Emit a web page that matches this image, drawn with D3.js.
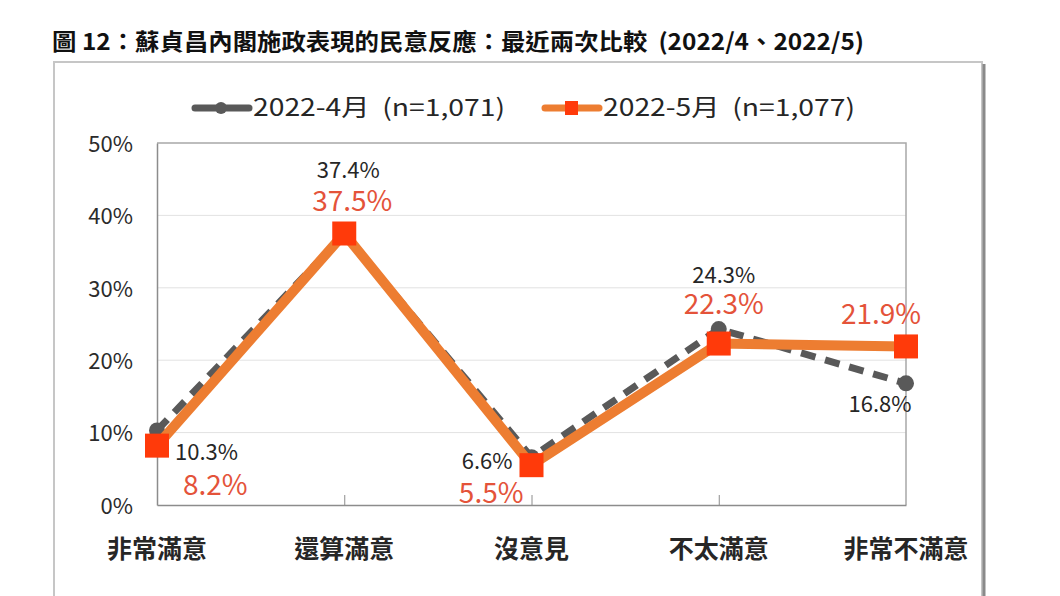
<!DOCTYPE html>
<html>
<head>
<meta charset="utf-8">
<script src="https://cdn.jsdelivr.net/npm/d3@7"></script>
<style>
  body { margin: 0; background: #fff; }
  svg { display: block; font-family: "Noto Sans CJK TC", "Noto Sans", sans-serif; }
</style>
</head>
<body>
<div id="chart"></div>
<script>
// data
const categories = ['非常滿意', '還算滿意', '沒意見', '不太滿意', '非常不滿意'];
const aprValues = [10.3, 37.4, 6.6, 24.3, 16.8];
const mayValues = [8.2, 37.5, 5.5, 22.3, 21.9];
const yTicks = [0, 10, 20, 30, 40, 50];
const seriesNames = ['2022-4月\u00a0\u00a0(n=1,071)', '2022-5月\u00a0\u00a0(n=1,077)'];
const title = '圖 12：蘇貞昌內閣施政表現的民意反應：最近兩次比較\u00a0\u00a0(2022/4、2022/5)';

// label placement around each point (anchor, dx, dy)
const aprLabelPos = [['start', 18, 30], ['middle', 4, -56], ['end', -19, 12], ['middle', 5, -46], ['middle', -26, 29]];
const mayLabelPos = [['start', 26, 49], ['middle', 8, -23], ['end', -8, 38], ['middle', 5, -30], ['middle', -25, -22]];

const width = 1060, height = 596;
const plot = { left: 157, right: 906, top: 143, bottom: 505 };

const svg = d3.select('#chart').append('svg')
    .attr('width', width)
    .attr('height', height);

// title
svg.append('text')
    .attr('x', 52)
    .attr('y', 50)
    .attr('font-size', 23)
    .attr('font-weight', 700)
    .attr('fill', '#111')
    .attr('textLength', 812)
    .attr('lengthAdjust', 'spacingAndGlyphs')
    .text(title);

// outer frame
svg.append('rect')
    .attr('x', 54).attr('y', 62)
    .attr('width', 928).attr('height', 560)
    .attr('fill', 'none')
    .attr('stroke', '#c6c6c6')
    .attr('stroke-width', 2);
svg.append('line')
    .attr('x1', 984).attr('x2', 984)
    .attr('y1', 64).attr('y2', 596)
    .attr('stroke', '#8a8a8a')
    .attr('stroke-width', 3);

const x = d3.scalePoint()
    .domain(categories)
    .range([plot.left, plot.right]);

const y = d3.scaleLinear()
    .domain([0, 50])
    .range([plot.bottom, plot.top]);

// gridlines
svg.append('g')
    .selectAll('line')
    .data(yTicks.slice(1, -1))
    .enter().append('line')
        .attr('x1', plot.left).attr('x2', plot.right)
        .attr('y1', d => y(d)).attr('y2', d => y(d))
        .attr('stroke', '#e2e2e2')
        .attr('stroke-width', 1);

// plot border (top / right)
svg.append('path')
    .attr('d', `M${plot.left},${plot.top}H${plot.right}V${plot.bottom}`)
    .attr('fill', 'none')
    .attr('stroke', '#a8a8a8')
    .attr('stroke-width', 1.5);

// y axis
const yAxis = svg.append('g')
    .attr('transform', `translate(${plot.left},0)`)
    .call(d3.axisLeft(y).tickValues(yTicks).tickFormat(d => d + '%').tickSize(0).tickPadding(24));
yAxis.select('.domain').attr('stroke', '#8c8c8c').attr('stroke-width', 1.5);
yAxis.selectAll('text')
    .attr('font-size', 22)
    .attr('fill', '#2b2b2b')
    .attr('font-family', '"Noto Sans CJK TC", sans-serif')
    .attr('dy', '0.38em');

// x axis
const xAxis = svg.append('g')
    .attr('transform', `translate(0,${plot.bottom})`)
    .call(d3.axisBottom(x).tickSizeInner(-10).tickSizeOuter(0).tickFormat(''));
xAxis.select('.domain').attr('stroke', '#8c8c8c').attr('stroke-width', 1.5);
xAxis.selectAll('.tick line').attr('stroke', '#8c8c8c');
xAxis.selectAll('.tick').filter((d, i) => i === 0 || i === categories.length - 1).remove();

svg.append('g')
    .selectAll('text')
    .data(categories)
    .enter().append('text')
        .attr('x', d => x(d))
        .attr('y', 558)
        .attr('text-anchor', 'middle')
        .attr('font-size', 25)
        .attr('font-weight', 700)
        .attr('fill', '#262626')
        .text(d => d);

// lines
const line = d3.line()
    .x((d, i) => x(categories[i]))
    .y(d => y(d));

const gray = '#595959', orange = '#ED7D31', red = '#FF3A0A', labelRed = '#E4533A';

svg.append('path')
    .datum(aprValues)
    .attr('d', line)
    .attr('fill', 'none')
    .attr('stroke', gray)
    .attr('stroke-width', 7)
    .attr('stroke-dasharray', '15,10');

svg.selectAll('.apr-dot')
    .data(aprValues)
    .enter().append('circle')
        .attr('class', 'apr-dot')
        .attr('cx', (d, i) => x(categories[i]))
        .attr('cy', d => y(d))
        .attr('r', 8)
        .attr('fill', gray);

svg.append('path')
    .datum(mayValues)
    .attr('d', line)
    .attr('fill', 'none')
    .attr('stroke', orange)
    .attr('stroke-width', 10);

const sq = 24;
svg.selectAll('.may-sq')
    .data(mayValues)
    .enter().append('rect')
        .attr('class', 'may-sq')
        .attr('x', (d, i) => x(categories[i]) - sq / 2)
        .attr('y', d => y(d) - sq / 2)
        .attr('width', sq)
        .attr('height', sq)
        .attr('fill', red);

// value labels
svg.selectAll('.apr-label')
    .data(aprValues)
    .enter().append('text')
        .attr('class', 'apr-label')
        .attr('x', (d, i) => x(categories[i]) + aprLabelPos[i][1])
        .attr('y', (d, i) => y(d) + aprLabelPos[i][2])
        .attr('text-anchor', (d, i) => aprLabelPos[i][0])
        .attr('font-size', 22)
        .attr('fill', '#262626')
        .text(d => d.toFixed(1) + '%');

svg.selectAll('.may-label')
    .data(mayValues)
    .enter().append('text')
        .attr('class', 'may-label')
        .attr('x', (d, i) => x(categories[i]) + mayLabelPos[i][1])
        .attr('y', (d, i) => y(d) + mayLabelPos[i][2])
        .attr('text-anchor', (d, i) => mayLabelPos[i][0])
        .attr('font-size', 28)
        .attr('fill', labelRed)
        .text(d => d.toFixed(1) + '%');

// legend
const legend = svg.append('g');
const legendItems = [
    { name: seriesNames[0], x: 195, color: gray, marker: 'circle' },
    { name: seriesNames[1], x: 545, color: orange, marker: 'square' }
];
legendItems.forEach(item => {
    const g = legend.append('g').attr('transform', `translate(${item.x},108)`);
    g.append('line')
        .attr('x1', 0).attr('x2', 54)
        .attr('stroke', item.color)
        .attr('stroke-width', 7)
        .attr('stroke-linecap', 'round');
    if (item.marker === 'circle') {
        g.append('circle').attr('cx', 26).attr('r', 6).attr('fill', item.color);
    } else {
        g.append('rect').attr('x', 20).attr('y', -7).attr('width', 13).attr('height', 14).attr('fill', red);
    }
    g.append('text')
        .attr('x', 58)
        .attr('y', 8)
        .attr('font-size', 24)
        .attr('fill', '#262626')
        .attr('textLength', 252)
        .attr('lengthAdjust', 'spacingAndGlyphs')
        .text(item.name);
});
</script>
</body>
</html>
